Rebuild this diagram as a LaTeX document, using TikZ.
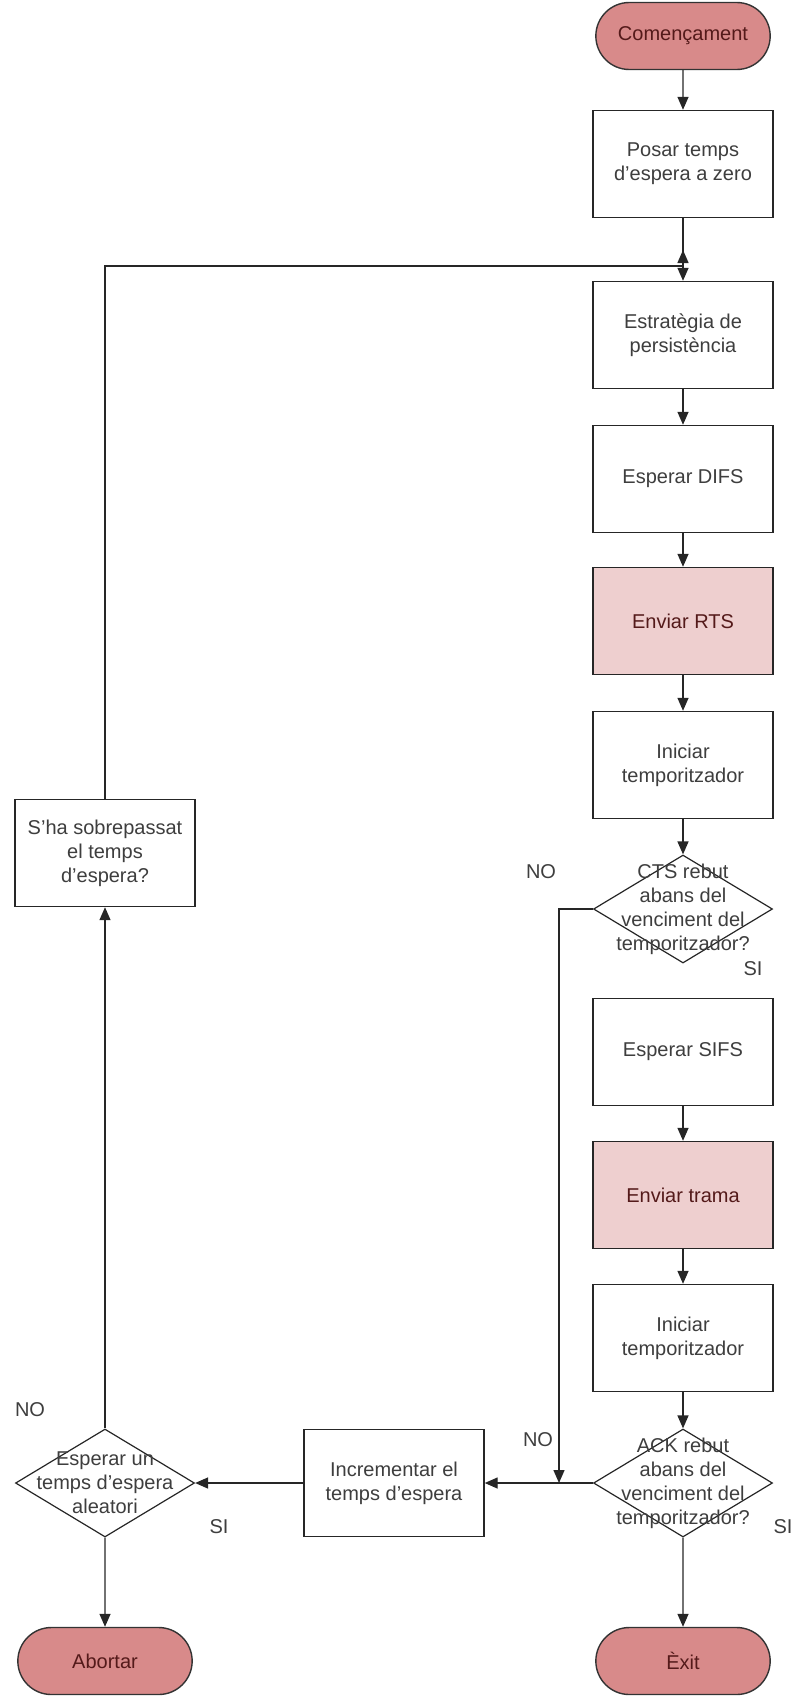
\documentclass[tikz,border=0pt]{standalone}
\usepackage{fontspec}
\setmainfont{Liberation Sans}
\usetikzlibrary{shapes.geometric,shapes.misc,arrows.meta}

\definecolor{termfill}{RGB}{216,138,138}
\definecolor{termtext}{RGB}{84,26,26}
\definecolor{sendfill}{RGB}{238,207,207}
\definecolor{boxtext}{RGB}{62,62,62}

\begin{document}
\begin{tikzpicture}[
    x=1pt, y=-1pt,
    block/.style={
        rectangle,
        draw=black!85,
        line width=1.4pt,
        fill=white,
        minimum width=180pt,
        minimum height=107pt,
        align=center,
        text=boxtext,
        font=\fontsize{20}{24}\selectfont
    },
    sendblock/.style={
        block,
        fill=sendfill,
        text=termtext
    },
    terminal/.style={
        rounded rectangle,
        draw=black!80,
        line width=1.4pt,
        fill=termfill,
        minimum width=181pt,
        minimum height=67pt,
        text=termtext,
        font=\fontsize{20}{24}\selectfont
    },
    decision/.style={
        diamond,
        draw=black!85,
        line width=1.2pt,
        fill=white,
        minimum width=179pt,
        minimum height=108pt,
        inner sep=0pt
    },
    dlabel/.style={
        text=boxtext,
        align=center,
        font=\fontsize{20}{24}\selectfont
    },
    answer/.style={
        text=boxtext,
        font=\fontsize{20}{24}\selectfont
    },
    edge/.style={
        -{Triangle[length=13pt,width=11pt]},
        line width=1.4pt,
        draw=black!85
    }
]

    \useasboundingbox (0,0) rectangle (792,1697);

    % right column
    \node[terminal] (start) at (683,36) {Començament};
    \node[block] (reset) at (683,164) {Posar temps\\d'espera a zero};
    \node[block] (persist) at (683,335) {Estratègia de\\persistència};
    \node[block] (difs) at (683,479) {Esperar DIFS};
    \node[sendblock] (rts) at (683,621) {Enviar RTS};
    \node[block] (timer1) at (683,765) {Iniciar\\temporitzador};
    \node[decision, label={[dlabel]center:CTS rebut\\abans del\\venciment del\\temporitzador?}] (cts) at (683,909) {};
    \node[block] (sifs) at (683,1052) {Esperar SIFS};
    \node[sendblock] (frame) at (683,1195) {Enviar trama};
    \node[block] (timer2) at (683,1338) {Iniciar\\temporitzador};
    \node[decision, label={[dlabel]center:ACK rebut\\abans del\\venciment del\\temporitzador?}] (ack) at (683,1483) {};
    \node[terminal] (exit) at (683,1661) {Èxit};

    % bottom row and left column
    \node[block] (incr) at (394,1483) {Incrementar el\\temps d'espera};
    \node[decision, label={[dlabel]center:Esperar un\\temps d'espera\\aleatori}] (backoff) at (105,1483) {};
    \node[terminal] (abort) at (105,1661) {Abortar};
    \node[block] (overrun) at (105,853) {S'ha sobrepassat\\el temps\\d'espera?};

    % answers
    \node[answer] (ctsno) at (541,872) {NO};
    \node[answer] (ctssi) at (753,969) {SI};
    \node[answer] (ackno) at (538,1440) {NO};
    \node[answer] (ackssi) at (783,1527) {SI};
    \node[answer] (bkno) at (30,1410) {NO};
    \node[answer] (bksi) at (219,1527) {SI};

    \coordinate (loopjoin) at (683,266);
    \coordinate (looptip) at (683,250);
    \coordinate (nojoin) at (559,1483);

    \draw[edge] (start) -- (reset);
    \draw[edge] (reset) -- (persist);
    \draw[edge] (persist) -- (difs);
    \draw[edge] (difs) -- (rts);
    \draw[edge] (rts) -- (timer1);
    \draw[edge] (timer1) -- (cts);
    \draw[edge] (sifs) -- (frame);
    \draw[edge] (frame) -- (timer2);
    \draw[edge] (timer2) -- (ack);
    \draw[edge] (ack) -- (exit);
    \draw[edge] (cts.west) -| (nojoin);
    \draw[edge] (ack.west) -- (incr.east);
    \draw[edge] (incr.west) -- (backoff.east);
    \draw[edge] (backoff) -- (abort);
    \draw[edge] (backoff.north) -- (overrun.south);
    \draw[edge] (overrun.north) |- (loopjoin) -- (looptip);

\end{tikzpicture}
\end{document}
